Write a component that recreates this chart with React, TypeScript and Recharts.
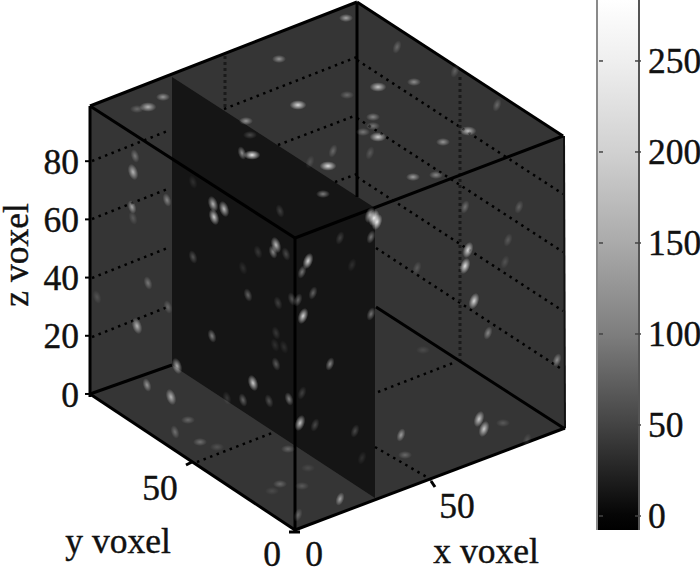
import React from 'react';
import { ComposedChart, Area, Line, Scatter, XAxis, YAxis } from 'recharts';

const SERIF = '"Liberation Serif", serif';
const FONT_SIZE = 35.5;

const seg = (x1: number, y1: number, x2: number, y2: number) => [
  { px: x1, py: y1 },
  { px: x2, py: y2 },
];

const cubeFaces = [
  { px: 90, band: [394, 106] },
  { px: 295, band: [530, 26] },
  { px: 357, band: [507, 2] },
  { px: 564, band: [429, 136] },
];
const slicePlane = [
  { px: 172, band: [365, 77] },
  { px: 375, band: [498, 208] },
];

const thickEdges = [
  seg(90, 106, 357, 2),
  seg(357, 2, 563, 136),
  seg(563, 136, 295, 238),
  seg(90, 106, 295, 238),
  seg(295, 238, 295, 532),
  seg(357, 2, 357, 197),
  seg(90, 394, 295, 530),
  seg(295, 530, 565, 428),
  seg(90, 394, 172, 365),
  seg(376, 307, 565, 429),
  seg(186, 465, 192, 462),
  seg(431, 481, 435, 487),
  seg(289, 532, 300, 532),
];
const thinEdges = [seg(564, 136, 565, 428)];
const zSpine = [
  { px: 90, zv: -1 },
  { px: 90, zv: 99 },
];
const dottedGrid = [
  seg(92, 161, 170, 130),
  seg(92, 219, 170, 188),
  seg(92, 278, 170, 247),
  seg(92, 337, 170, 306),
  seg(224, 109, 357, 57),
  seg(278, 145, 357, 115),
  seg(335, 182, 357, 174),
  seg(357, 60, 563, 194),
  seg(357, 118, 563, 252),
  seg(357, 177, 563, 311),
  seg(376, 248, 563, 370),
  seg(197, 462, 272, 433),
  seg(378, 392, 453, 363),
  seg(375, 447, 432, 480),
];
const denseGrid = [seg(225, 56, 225, 110), seg(460, 77, 460, 362)];

// voxel intensity spots: [px, py, intensity]
const flatSpots = [
  [279, 59, 130], [298, 105, 220], [328, 166, 225], [246, 121, 130], [250, 135, 60], [252, 155, 245],
  [323, 194, 120], [346, 18, 150], [347, 95, 70], [163, 97, 130], [148, 107, 170], [137, 109, 70],
  [414, 82, 120], [378, 87, 190], [373, 117, 110], [373, 126, 90], [363, 132, 90], [378, 137, 200],
  [468, 131, 180], [443, 142, 130], [413, 177, 140], [436, 175, 110], [188, 420, 70], [200, 442, 80],
  [217, 447, 40], [288, 449, 70], [308, 468, 30], [280, 484, 70], [302, 486, 50], [272, 491, 30],
  [503, 423, 50], [405, 455, 70], [423, 350, 30],
];
const tiltedSpots = [
  [242, 153, 140], [135, 156, 90], [133, 172, 170], [132, 207, 150], [133, 218, 50], [167, 200, 110],
  [333, 151, 70], [310, 162, 40], [213, 204, 180], [214, 217, 210], [224, 209, 190], [280, 211, 50],
  [193, 182, 30], [276, 245, 190], [273, 252, 130], [286, 254, 60], [258, 252, 40], [193, 257, 70],
  [243, 268, 30], [308, 261, 220], [302, 272, 110], [340, 238, 50], [148, 283, 90], [397, 47, 70],
  [455, 71, 60], [497, 105, 70], [370, 153, 50], [374, 218, 255], [377, 222, 240], [370, 215, 180],
  [371, 237, 110], [465, 207, 80], [519, 207, 60], [508, 240, 50], [468, 250, 220], [465, 266, 230],
  [505, 262, 40], [417, 268, 50], [352, 265, 30], [248, 295, 90], [168, 307, 70], [97, 297, 40],
  [278, 303, 50], [292, 299, 70], [298, 300, 90], [313, 293, 90], [303, 316, 220], [137, 326, 170],
  [212, 336, 120], [276, 333, 40], [275, 345, 30], [284, 347, 30], [276, 364, 80], [177, 366, 170],
  [330, 364, 130], [253, 383, 210], [147, 385, 130], [171, 397, 170], [243, 400, 90], [269, 401, 70],
  [289, 399, 120], [302, 393, 50], [300, 423, 200], [315, 425, 60], [175, 432, 80], [340, 499, 150],
  [298, 515, 70], [227, 398, 40], [474, 301, 220], [488, 333, 110], [557, 360, 120], [371, 314, 110],
  [479, 419, 200], [484, 429, 200], [401, 435, 140], [355, 431, 60], [362, 458, 30], [527, 440, 40],
];
const toPoints = (rows: number[][]) => rows.map(([px, py, level]) => ({ px, py, level }));

const axisTexts = [
  { px: 160, py: 500, text: '50' },
  { px: 272, py: 566, text: '0' },
  { px: 314, py: 566, text: '0' },
  { px: 457, py: 518, text: '50' },
  { px: 118, py: 553, text: 'y voxel' },
  { px: 486, py: 563, text: 'x voxel' },
];

const zTicks = [0, 20, 40, 60, 80];
const colorTicks = [0, 50, 100, 150, 200, 250];
const colorBar = [
  { px: 597, band: [-7.7, 283.5] },
  { px: 639, band: [-7.7, 283.5] },
];
const colorStops = [
  { at: 0, shade: '#ffffff' },
  { at: 0.12, shade: '#eeeeee' },
  { at: 0.29, shade: '#d0d0d0' },
  { at: 0.46, shade: '#aaaaaa' },
  { at: 0.63, shade: '#7e7e7e' },
  { at: 0.8, shade: '#444444' },
  { at: 0.97, shade: '#060606' },
  { at: 1, shade: '#000000' },
];

const SpotShape = (tilted: boolean) => (props: any) => {
  const { cx, cy, payload } = props;
  const grow = payload.level > 150 ? 1.2 : 1;
  const lean = payload.px >= 295 ? 20 : -18;
  return (
    <ellipse
      cx={cx}
      cy={cy}
      rx={(tilted ? 4 : 7) * grow}
      ry={(tilted ? 7 : 4) * grow}
      transform={tilted ? `rotate(${lean} ${cx} ${cy})` : undefined}
      fill="url(#spotGlow)"
      opacity={Math.min(1, payload.level / 270)}
    />
  );
};

const TextShape = (props: any) => (
  <text x={props.cx} y={props.cy} textAnchor="middle" fontFamily={SERIF} fontSize={FONT_SIZE} fill="#111" stroke="#111" strokeWidth={0.4}>
    {props.payload.text}
  </text>
);

const ColorTick = (props: any) => {
  const { x, y, payload } = props;
  return (
    <g>
      <line x1={x - 42} x2={x - 38} y1={y} y2={y} stroke="#444" strokeWidth={1.5} />
      <line x1={x - 6} x2={x} y1={y} y2={y} stroke="#444" strokeWidth={1.5} />
      <text x={x + 7} y={y + 12} fontFamily={SERIF} fontSize={FONT_SIZE} fill="#111" stroke="#111" strokeWidth={0.4}>
        {payload.value}
      </text>
    </g>
  );
};

const VolumeSliceChart: React.FC = () => (
  <ComposedChart width={700} height={570} margin={{ top: 0, right: 0, bottom: 0, left: 0 }}>
    <defs>
      <radialGradient id="spotGlow">
        <stop offset="0%" stopColor="#ffffff" />
        <stop offset="30%" stopColor="#ffffff" stopOpacity={0.7} />
        <stop offset="100%" stopColor="#ffffff" stopOpacity={0} />
      </radialGradient>
      <linearGradient id="grayRamp" x1="0" y1="0" x2="0" y2="1">
        {colorStops.map((s) => (
          <stop key={s.at} offset={s.at} stopColor={s.shade} />
        ))}
      </linearGradient>
    </defs>

    <XAxis xAxisId={0} type="number" dataKey="px" domain={[90, 639]} hide />
    <YAxis yAxisId="plane" type="number" dataKey="py" domain={[0, 570]} reversed hide width={0} />
    <YAxis
      yAxisId="z"
      type="number"
      width={90}
      domain={[-60.5, 135.4]}
      ticks={zTicks}
      interval={0}
      axisLine={false}
      tickSize={5}
      tickMargin={6}
      tickLine={{ stroke: '#000', strokeWidth: 2 }}
      tick={{ fontFamily: SERIF, fontSize: FONT_SIZE, fill: '#111', stroke: '#111', strokeWidth: 0.4 }}
      label={{
        value: 'z voxel',
        angle: -90,
        position: 'insideLeft',
        dx: 10,
        dy: -30,
        style: { fontFamily: SERIF, fontSize: FONT_SIZE, fill: '#111', stroke: '#111', strokeWidth: 0.4, textAnchor: 'middle' },
      }}
    />
    <YAxis
      yAxisId="color"
      orientation="right"
      type="number"
      width={61}
      domain={[-29.67, 283.5]}
      ticks={colorTicks}
      interval={0}
      axisLine={false}
      tickLine={false}
      tickSize={0}
      tick={ColorTick}
    />

    <Area yAxisId="plane" data={cubeFaces} dataKey="band" fill="#353535" fillOpacity={1} stroke="none" dot={false} isAnimationActive={false} />
    <Area yAxisId="plane" data={slicePlane} dataKey="band" fill="#151515" fillOpacity={1} stroke="none" dot={false} isAnimationActive={false} />
    <Area yAxisId="color" data={colorBar} dataKey="band" fill="url(#grayRamp)" fillOpacity={1} stroke="none" dot={false} isAnimationActive={false} />

    {dottedGrid.map((d, i) => (
      <Line key={`dot${i}`} yAxisId="plane" data={d} dataKey="py" stroke="#000" strokeWidth={2.5} strokeDasharray="2.5 4.5" dot={false} legendType="none" isAnimationActive={false} />
    ))}
    {denseGrid.map((d, i) => (
      <Line key={`dense${i}`} yAxisId="plane" data={d} dataKey="py" stroke="#1a1a1a" strokeWidth={3} strokeDasharray="3 3" dot={false} legendType="none" isAnimationActive={false} />
    ))}
    {thinEdges.map((d, i) => (
      <Line key={`thin${i}`} yAxisId="plane" data={d} dataKey="py" stroke="#111" strokeWidth={2} dot={false} legendType="none" isAnimationActive={false} />
    ))}
    {thickEdges.map((d, i) => (
      <Line key={`edge${i}`} yAxisId="plane" data={d} dataKey="py" stroke="#000" strokeWidth={3} dot={false} legendType="none" isAnimationActive={false} />
    ))}
    <Line yAxisId="z" data={zSpine} dataKey="zv" stroke="#000" strokeWidth={3} dot={false} legendType="none" isAnimationActive={false} />

    <Line yAxisId="color" data={[{ px: 597, frame: -7.7 }, { px: 597, frame: 283.5 }]} dataKey="frame" stroke="#8a8a8a" strokeWidth={2} dot={false} isAnimationActive={false} />
    <Line yAxisId="color" data={[{ px: 639, frame: -7.7 }, { px: 639, frame: 283.5 }]} dataKey="frame" stroke="#555" strokeWidth={2} dot={false} isAnimationActive={false} />

    <Scatter yAxisId="plane" data={toPoints(flatSpots)} shape={SpotShape(false)} isAnimationActive={false} />
    <Scatter yAxisId="plane" data={toPoints(tiltedSpots)} shape={SpotShape(true)} isAnimationActive={false} />
    <Scatter yAxisId="plane" data={axisTexts} shape={TextShape} isAnimationActive={false} />
  </ComposedChart>
);

export default function App() {
  return (
    <div style={{ position: 'absolute', left: 0, top: 0, width: 700, height: 570, background: '#fff' }}>
      <VolumeSliceChart />
    </div>
  );
}
